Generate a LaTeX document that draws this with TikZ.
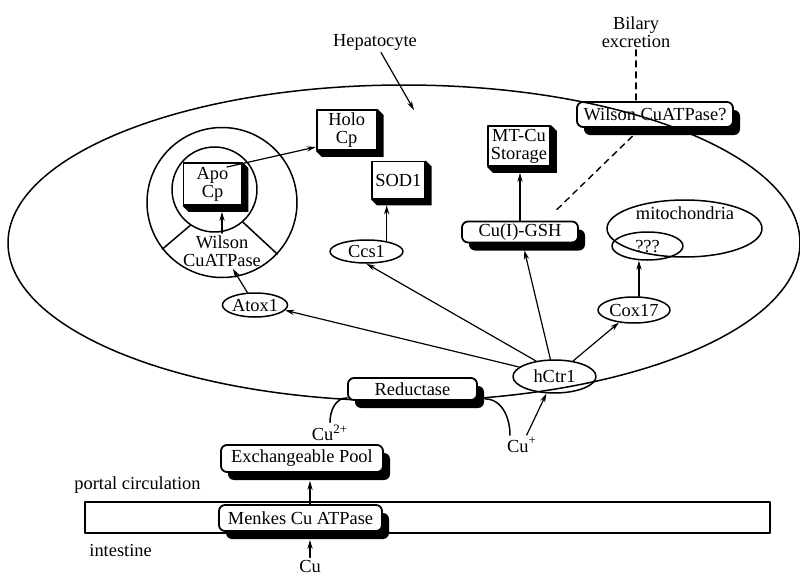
\documentclass[tikz,border=0pt]{standalone}
\usepackage{fontspec}
\setmainfont{Liberation Serif}
\usetikzlibrary{arrows.meta,calc,shapes.geometric,shadows,backgrounds}
\def\dfont{\fontsize{9.2}{9}\selectfont}
\tikzset{
  >={Stealth[length=4.5pt,width=2.6pt]},
  every picture/.style={line cap=round, line join=round},
  txt/.style={font=\dfont, align=center, inner sep=1pt},
  rbox/.style={draw, fill=white, rounded corners=3pt, line width=0.9pt, font=\dfont,
    inner sep=1pt, drop shadow={shadow xshift=3.5pt, shadow yshift=-4pt, fill=black, opacity=1}},
  cbox/.style={draw, fill=white, line width=0.9pt, font=\dfont, align=center, inner sep=1pt},
  oval/.style={draw, ellipse, line width=0.75pt, font=\dfont, inner sep=0pt,
    text height=6pt, text depth=0pt},
  ring/.style={draw, circle, line width=0.75pt, inner sep=0pt},
  arr/.style={->, line width=0.6pt},
  dsh/.style={line width=0.7pt, dash pattern=on 3pt off 2.5pt},
}
\def\Extrude#1{\begin{scope}[on background layer]
  \fill (#1.north east) -- ++(6,6) -- ($(#1.south east)+(6,6)$) -- ($(#1.south west)+(6,6)$) -- (#1.south west) -- cycle;
  \end{scope}}
\begin{document}
\begin{tikzpicture}[x=0.5pt, y=-0.5pt]
  \useasboundingbox (0,0) rectangle (800,573);
  % ---------------- cell ----------------
  \node[rbox, minimum width=78pt, minimum height=12.5pt] (wil) at (655,114.5) {Wilson CuATPase?};
  \draw[line width=0.75pt] (404,243) ellipse [x radius=396, y radius=158];
  \node[txt] (hep) at (375,42) {Hepatocyte};
  \coordinate (hepend) at (414,110);
  \draw[arr] (hep) -- (hepend);
  \node[txt] (bil) at (636,32) {Bilary\\excretion};
  \draw[dsh] (bil.south) -- (bil.south |- wil.north);

  % ---------------- Wilson ATPase compartment ----------------
  \node[ring, minimum size=75pt] (outer) at (222,202.5) {};
  \node[ring, minimum size=42.5pt] (inner) at (214.5,189.5) {};
  \draw[line width=0.75pt] (inner.236) -- (outer.218) (inner.311) -- (outer.317);
  \node[cbox, minimum width=29pt, minimum height=21pt] (apo) at (212.5,184) {Apo\\Cp};
  \Extrude{apo}
  \node[txt] (wcu) at (222,251) {Wilson\\CuATPase};
  \node[cbox, minimum width=30pt, minimum height=20pt] (holo) at (346.7,130) {Holo\\Cp};
  \Extrude{holo}
  \node[cbox, minimum width=26.5pt, minimum height=18.5pt] (sod) at (398.3,180) {SOD1};
  \Extrude{sod}
  \node[cbox, minimum width=31pt, minimum height=20pt] (mt) at (519,146) {MT-Cu\\Storage};
  \Extrude{mt}

  % ---------------- chaperones ----------------
  \node[oval, minimum width=36.5pt, minimum height=11.5pt] (ccs) at (366.5,251.5) {Ccs1};
  \node[oval, minimum width=32pt, minimum height=12pt] (atox) at (255,305) {Atox1};
  \node[rbox, minimum width=58pt, minimum height=10.5pt] (gsh) at (520,232) {Cu(I)-GSH};
  \node[oval, minimum width=77.5pt, minimum height=28.5pt] (mito) at (684.5,228.5) {};
  \node[txt] (mitolbl) at (685,213) {mitochondria};
  \node[oval, minimum width=35.5pt, minimum height=14pt] (q) at (647.5,246) {???};
  \node[oval, minimum width=36pt, minimum height=13pt] (cox) at (634,310) {Cox17};
  \node[oval, minimum width=41.5pt, minimum height=16.5pt] (hctr) at (554.5,376.5) {hCtr1};
  \node[rbox, minimum width=64.5pt, minimum height=11pt] (red) at (412.5,389) {Reductase};

  % ---------------- uptake ----------------
  \node[txt] (cuii) at (330,433) {Cu\textsuperscript{2+}};
  \node[txt] (cup) at (522,445) {Cu\textsuperscript{+}};
  \node[rbox, minimum width=81pt, minimum height=13.5pt] (pool) at (302,458.5) {Exchangeable Pool};
  \draw[line width=0.9pt] (85,502) rectangle (770,533);
  \node[rbox, minimum width=81.5pt, minimum height=13pt] (menkes) at (300.5,518) {Menkes Cu ATPase};
  \node[txt, anchor=west] (portal) at (72,485) {portal circulation};
  \node[txt, anchor=west] (gut) at (87,550) {intestine};
  \node[txt] (cu) at (310,566) {Cu};

  % ---------------- arrows ----------------
  \coordinate (apoout) at (227,167);
  \draw[arr] (apoout) -- ([yshift=-8.5pt]holo.west);
  \draw[arr] (wcu.north) -- ($(apo.south -| wcu.north)+(0,6)$);
  \draw[arr] (atox) -- (wcu);
  \draw[arr] (ccs.27) -- ($(ccs.27 |- sod.south)+(0,6)$);
  \draw[arr] (hctr.165) -- (atox.-10);
  \draw[arr] (hctr.140) -- (ccs.south);
  \draw[arr, shorten >=3.6pt] (hctr) -- (gsh);
  \draw[arr] (hctr) -- (cox);
  \draw[arr] (cox.70) -- (cox.70 |- q.south);
  \draw[arr] (gsh.north) -- ($(gsh.north |- mt.south)+(0,6)$);
  \draw[dsh, shorten <=8pt] ($(gsh.north)+(25.5,0)$) -- ($(wil.south)+(-14,0)$);
  \draw[arr] (cup) -- (hctr);
  \draw[line width=0.75pt] (cuii.north) to[out=90, in=180] ($(red.south west)+(0,-3)$);
  \draw[line width=0.75pt] ($(red.south east)+(7,-2)$) to[out=0, in=90] ($(cup.north)+(-12,0)$);
  \draw[arr] (menkes.north -| cu) -- ($(pool.south -| cu)+(0,8)$);
  \draw[arr] (cu) -- ($(menkes.south -| cu)+(0,8)$);
\end{tikzpicture}
\end{document}
